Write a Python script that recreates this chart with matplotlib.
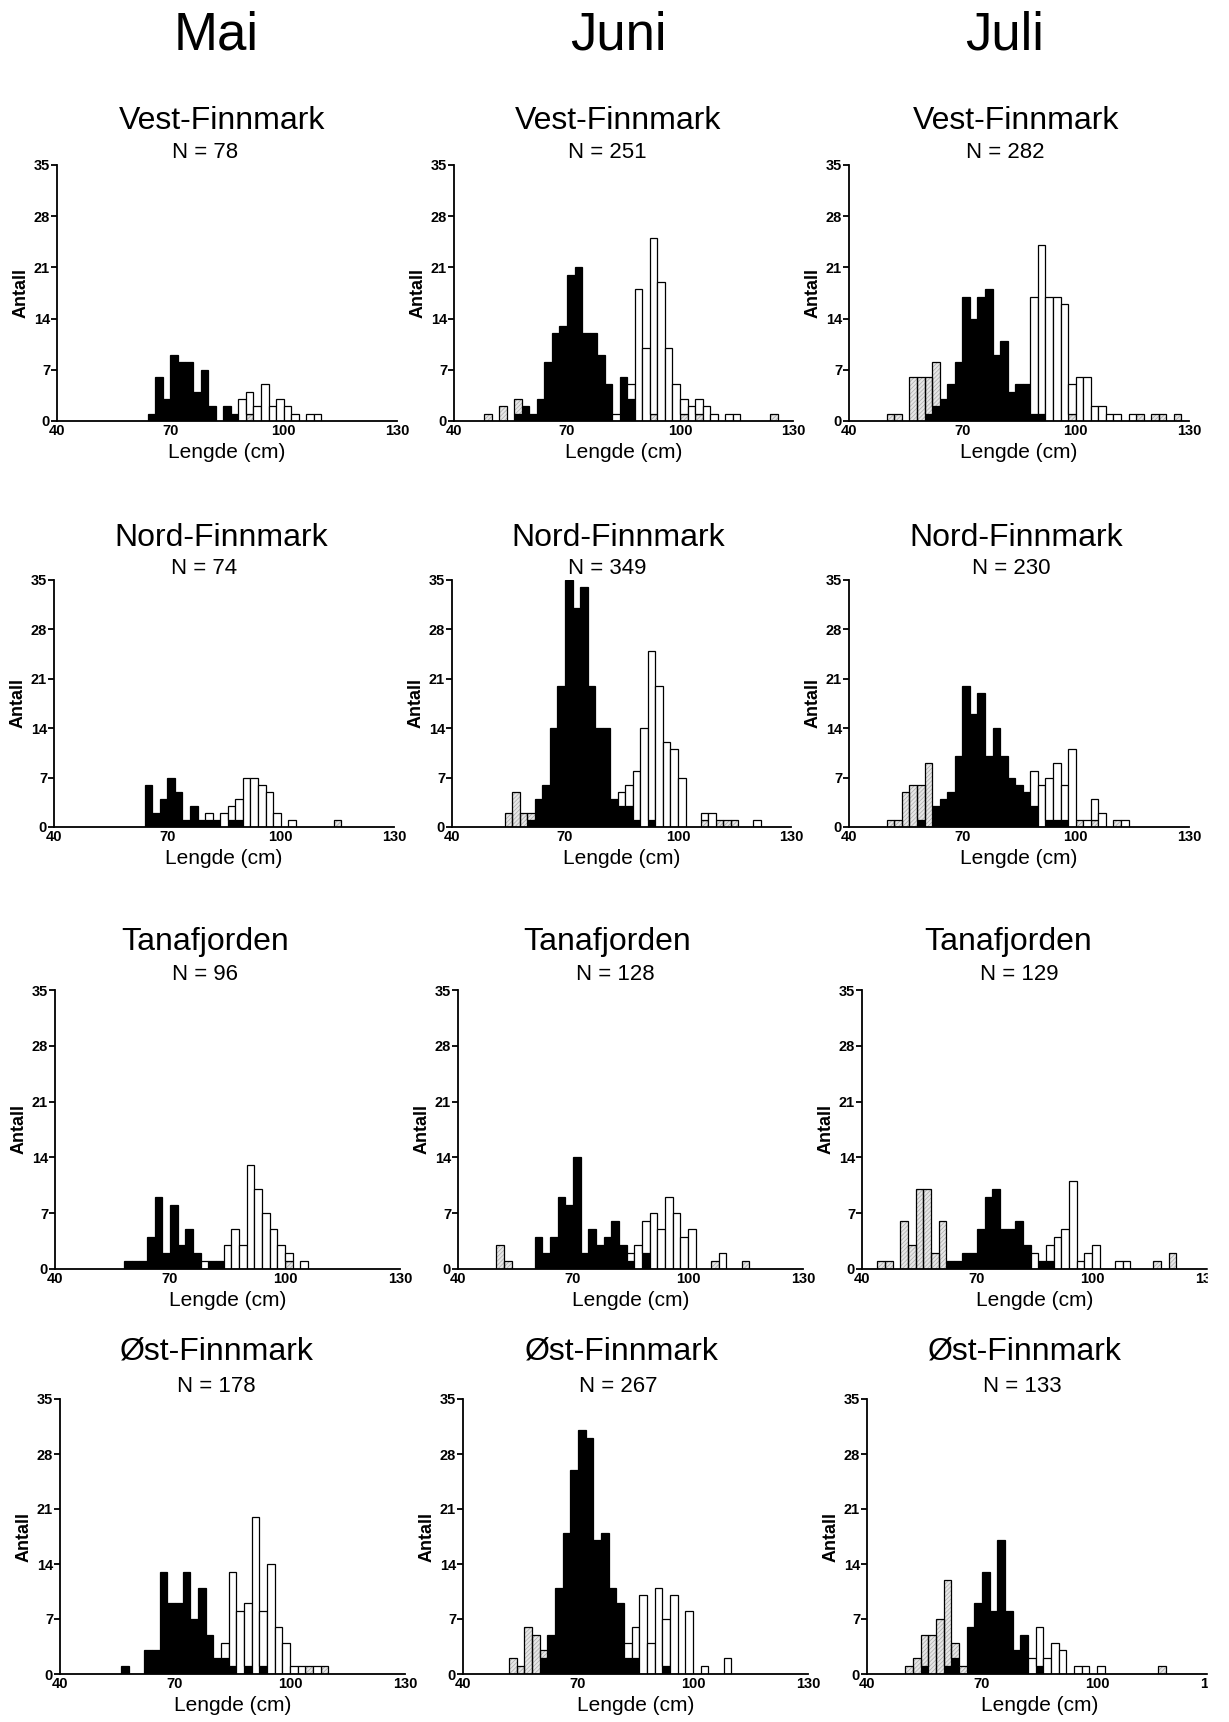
import matplotlib.pyplot as plt
import numpy as np
from matplotlib.patches import Rectangle

plt.rcParams['font.family'] = ['Liberation Sans', 'DejaVu Sans']
plt.rcParams['hatch.linewidth'] = 0.5

# length classes (cm), 2 cm wide
bins = np.arange(40, 130, 2)

months = ['Mai', 'Juni', 'Juli']
areas = ['Vest-Finnmark', 'Nord-Finnmark', 'Tanafjorden', 'Øst-Finnmark']
n_fish = [[78, 251, 282], [74, 349, 230], [96, 128, 129], [178, 267, 133]]

# counts per length class {class start: count}
# black = black bars, hatch = grey hatched bars, white = open bars (stacked in that order)
vest_mai_black = {64: 1, 66: 6, 68: 3, 70: 9, 72: 8, 74: 8, 76: 4, 78: 7, 80: 2, 84: 2, 86: 1}
vest_mai_hatch = {90: 1}
vest_mai_white = {88: 3, 90: 3, 92: 2, 94: 5, 96: 2, 98: 3, 100: 2, 102: 1, 106: 1, 108: 1}

vest_juni_black = {56: 1, 58: 2, 60: 1, 62: 3, 64: 8, 66: 12, 68: 13, 70: 20, 72: 21, 74: 12,
                   76: 12, 78: 9, 80: 5, 84: 6, 86: 3}
vest_juni_hatch = {48: 1, 52: 2, 56: 2, 92: 1, 100: 1, 104: 1, 124: 1}
vest_juni_white = {82: 1, 86: 2, 88: 18, 90: 10, 92: 24, 94: 19, 96: 10, 98: 5, 100: 2, 102: 2,
                   104: 2, 106: 2, 108: 1, 112: 1, 114: 1}

vest_juli_black = {60: 1, 62: 2, 64: 3, 66: 5, 68: 8, 70: 17, 72: 14, 74: 17, 76: 18, 78: 9,
                   80: 11, 82: 4, 84: 5, 86: 5, 88: 1, 90: 1}
vest_juli_hatch = {50: 1, 52: 1, 56: 6, 58: 6, 60: 5, 62: 6, 98: 1, 116: 1, 120: 1, 122: 1, 126: 1}
vest_juli_white = {88: 16, 90: 23, 92: 17, 94: 17, 96: 16, 98: 4, 100: 6, 102: 6, 104: 2,
                   106: 2, 108: 1, 110: 1, 114: 1}

nord_mai_black = {64: 6, 66: 2, 68: 4, 70: 7, 72: 5, 74: 1, 76: 3, 78: 1, 80: 1, 82: 1, 86: 1, 88: 1}
nord_mai_hatch = {114: 1}
nord_mai_white = {80: 1, 84: 2, 86: 2, 88: 3, 90: 7, 92: 7, 94: 6, 96: 5, 98: 2, 102: 1}

nord_juni_black = {60: 1, 62: 4, 64: 6, 66: 14, 68: 20, 70: 35, 72: 31, 74: 34, 76: 20, 78: 14,
                   80: 14, 82: 4, 84: 3, 86: 3, 88: 1, 92: 1}
nord_juni_hatch = {54: 2, 56: 5, 58: 2, 60: 1, 106: 1, 110: 1, 112: 1, 114: 1}
nord_juni_white = {84: 2, 86: 3, 88: 7, 90: 14, 92: 24, 94: 20, 96: 12, 98: 11, 100: 7,
                   106: 1, 108: 2, 120: 1}

nord_juli_black = {58: 1, 62: 3, 64: 4, 66: 5, 68: 10, 70: 20, 72: 16, 74: 19, 76: 10, 78: 14,
                   80: 10, 82: 7, 84: 6, 86: 5, 88: 3, 92: 1, 94: 1, 96: 1}
nord_juli_hatch = {50: 1, 52: 1, 54: 5, 56: 6, 58: 5, 60: 9, 100: 1, 104: 1, 110: 1}
nord_juli_white = {88: 5, 90: 6, 92: 6, 94: 8, 96: 5, 98: 11, 102: 1, 104: 3, 106: 2, 112: 1}

tana_mai_black = {58: 1, 60: 1, 62: 1, 64: 4, 66: 9, 68: 2, 70: 8, 72: 3, 74: 5, 76: 2, 80: 1, 82: 1}
tana_mai_hatch = {100: 1}
tana_mai_white = {78: 1, 84: 3, 86: 5, 88: 3, 90: 13, 92: 10, 94: 7, 96: 5, 98: 3, 100: 1, 104: 1}

tana_juni_black = {60: 4, 62: 2, 64: 4, 66: 9, 68: 8, 70: 14, 72: 2, 74: 5, 76: 3, 78: 4, 80: 6,
                   82: 3, 84: 1, 88: 2}
tana_juni_hatch = {50: 3, 52: 1, 106: 1, 114: 1}
tana_juni_white = {84: 1, 86: 3, 88: 4, 90: 7, 92: 5, 94: 9, 96: 7, 98: 4, 100: 5, 108: 2}

tana_juli_black = {62: 1, 64: 1, 66: 2, 68: 2, 70: 5, 72: 9, 74: 10, 76: 5, 78: 5, 80: 6, 82: 3,
                   86: 1, 88: 1}
tana_juli_hatch = {44: 1, 46: 1, 50: 6, 52: 3, 54: 10, 56: 10, 58: 2, 60: 6, 116: 1, 120: 2}
tana_juli_white = {84: 2, 88: 2, 90: 4, 92: 5, 94: 11, 96: 1, 98: 2, 100: 3, 106: 1, 108: 1}

ost_mai_black = {56: 1, 62: 3, 64: 3, 66: 13, 68: 9, 70: 9, 72: 13, 74: 7, 76: 11, 78: 5, 80: 2,
                 82: 2, 84: 1, 88: 1, 92: 1}
ost_mai_hatch = {104: 1, 108: 1}
ost_mai_white = {82: 2, 84: 12, 86: 8, 88: 8, 90: 20, 92: 7, 94: 14, 96: 6, 98: 4, 100: 1,
                 102: 1, 106: 1}

ost_juni_black = {60: 2, 62: 5, 64: 11, 66: 18, 68: 26, 70: 31, 72: 30, 74: 17, 76: 18, 78: 11,
                  80: 9, 82: 2, 84: 2, 92: 1}
ost_juni_hatch = {52: 2, 54: 1, 56: 6, 58: 5, 60: 1}
ost_juni_white = {82: 2, 84: 4, 86: 10, 88: 4, 90: 11, 92: 6, 94: 10, 98: 8, 102: 1, 108: 2}

ost_juli_black = {54: 1, 60: 1, 62: 2, 66: 6, 68: 9, 70: 13, 72: 8, 74: 17, 76: 8, 78: 3, 80: 5, 84: 1}
ost_juli_hatch = {50: 1, 52: 2, 54: 4, 56: 5, 58: 7, 60: 11, 62: 2, 64: 1, 116: 1}
ost_juli_white = {82: 2, 84: 5, 86: 2, 88: 4, 90: 3, 94: 1, 96: 1, 100: 1}

black = [[vest_mai_black, vest_juni_black, vest_juli_black],
         [nord_mai_black, nord_juni_black, nord_juli_black],
         [tana_mai_black, tana_juni_black, tana_juli_black],
         [ost_mai_black, ost_juni_black, ost_juli_black]]
hatch = [[vest_mai_hatch, vest_juni_hatch, vest_juli_hatch],
         [nord_mai_hatch, nord_juni_hatch, nord_juli_hatch],
         [tana_mai_hatch, tana_juni_hatch, tana_juli_hatch],
         [ost_mai_hatch, ost_juni_hatch, ost_juli_hatch]]
white = [[vest_mai_white, vest_juni_white, vest_juli_white],
         [nord_mai_white, nord_juni_white, nord_juli_white],
         [tana_mai_white, tana_juni_white, tana_juli_white],
         [ost_mai_white, ost_juni_white, ost_juli_white]]


def counts(d):
    return np.array([d.get(b, 0) for b in bins])


W, H = 1229, 1722
fig = plt.figure(figsize=(W / 100, H / 100), dpi=100)

# panel frames in pixels: (top, bottom) per row, (left, right) per row/col
rows_tb = [(165, 421), (580, 827), (990, 1269), (1399, 1674)]
cols_lr = [[(57, 397), (454, 793), (849, 1189)],
           [(54, 394), (452, 791), (849, 1189)],
           [(55, 400), (458, 803), (862, 1207)],
           [(60, 405), (463, 808), (867, 1212)]]
title_xy = [[(222, 121), (618, 121), (1016, 121)],
            [(221, 538), (618, 538), (1016, 538)],
            [(205, 942), (607, 942), (1008, 942)],
            [(217, 1352), (622, 1352), (1025, 1352)]]
n_xy = [[(205, 152), (607, 152), (1005, 152)],
        [(204, 568), (607, 568), (1011, 568)],
        [(205, 974), (615, 974), (1019, 974)],
        [(216, 1386), (618, 1386), (1022, 1386)]]
month_x = [216, 618, 1005]

narrow = ['Liberation Sans Narrow', 'Liberation Sans']

for j, m in enumerate(months):
    fig.text(month_x[j] / W, 1 - 35 / H, m, fontsize=38, ha='center', va='center')

for i in range(4):
    top, bot = rows_tb[i]
    for j in range(3):
        left, right = cols_lr[i][j]
        ax = fig.add_axes([left / W, 1 - bot / H, (right - left) / W, (bot - top) / H])

        b = counts(black[i][j])
        h = counts(hatch[i][j])
        w = counts(white[i][j])

        kb = b > 0
        ax.bar(bins[kb], b[kb], width=2, align='edge', color='black', edgecolor='black', linewidth=0.9)
        kh = h > 0
        ax.bar(bins[kh], h[kh], bottom=b[kh], width=2, align='edge', color='#e6e6e6',
               edgecolor='#ababab', hatch='////////', linewidth=0)
        ax.bar(bins[kh], h[kh], bottom=b[kh], width=2, align='edge', fill=False,
               edgecolor='black', linewidth=0.9)
        kw = w > 0
        ax.bar(bins[kw], w[kw], bottom=(b + h)[kw], width=2, align='edge', color='white',
               edgecolor='black', linewidth=0.9)

        ax.set_xlim(40, 130)
        ax.set_ylim(0, 35)
        ax.set_xticks([40, 70, 100, 130])
        ax.set_yticks([0, 7, 14, 21, 28, 35])
        ax.set_xticks([130], minor=True)
        ax.tick_params(axis='x', which='major', length=0, pad=2)
        ax.tick_params(axis='x', which='minor', direction='in', length=5, width=1.3)
        ax.tick_params(axis='y', direction='out', length=4, width=1.3, pad=1)
        for lab in ax.get_xticklabels() + ax.get_yticklabels():
            lab.set_family(narrow)
            lab.set_fontweight('bold')
            lab.set_fontsize(10.5)
        for s in ['top', 'right']:
            ax.spines[s].set_visible(False)
        for s in ['left', 'bottom']:
            ax.spines[s].set_linewidth(1.3)

        ax.set_ylabel('Antall', fontsize=13, fontweight='bold', family=narrow)
        ax.yaxis.set_label_coords(-27 / (right - left), 0.5)
        ax.set_xlabel('Lengde (cm)', fontsize=15)
        ax.xaxis.set_label_coords(0.5, -22 / (bot - top))

        tx, ty = title_xy[i][j]
        fig.text(tx / W, 1 - ty / H, areas[i], fontsize=23, ha='center', va='center')
        nx, ny = n_xy[i][j]
        fig.text(nx / W, 1 - ny / H, 'N = ' + str(n_fish[i][j]), fontsize=16, ha='center', va='center')

# the source picture is cut at the right edge
fig.add_artist(Rectangle((1208 / W, 0), 1, 1, transform=fig.transFigure, color='white', zorder=100))

fig.savefig('out.png', dpi=100)
